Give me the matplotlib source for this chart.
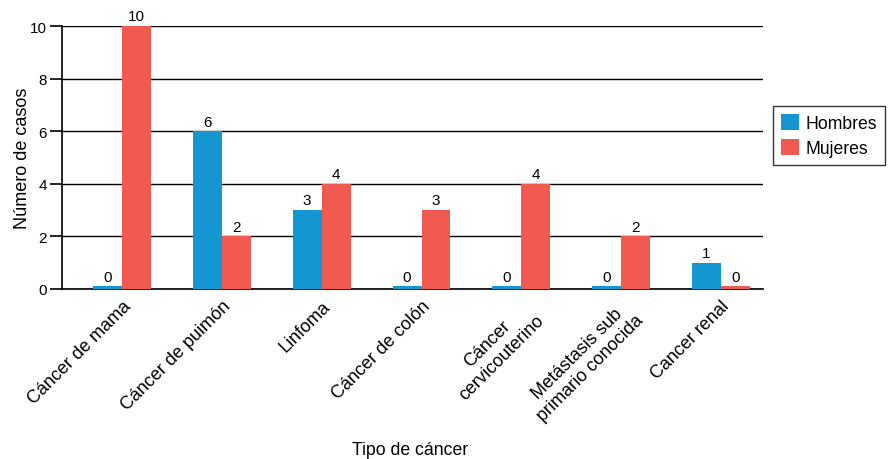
import matplotlib
matplotlib.use('Agg')
from matplotlib import pyplot as plt
import numpy as np

categorias = ['Cáncer de mama', 'Cáncer de puimón', 'Linfoma', 'Cáncer de colón',
              'Cáncer\ncervicouterino', 'Metástasis sub\nprimario conocida', 'Cancer renal']
hombres = [0, 6, 3, 0, 0, 0, 1]
mujeres = [10, 2, 4, 3, 4, 2, 0]

plt.rcParams['font.family'] = ['Liberation Sans', 'DejaVu Sans']

azul = '#1497d1'
rojo = '#f15a50'
ancho = 0.29
stub = 0.1  # zero-valued bars are drawn as a thin sliver

fig = plt.figure(figsize=(8.94, 4.6), dpi=100)
ax = fig.add_axes([0.0694, 0.3696, 0.7841, 0.5717])

x = np.arange(len(categorias))
h = np.array(hombres, dtype=float)
m = np.array(mujeres, dtype=float)
ax.bar(x - ancho / 2, np.where(h == 0, stub, h), ancho, color=azul, label='Hombres', zorder=3)
ax.bar(x + ancho / 2, np.where(m == 0, stub, m), ancho, color=rojo, label='Mujeres', zorder=3)

for xi, v in zip(x - ancho / 2, hombres):
    ax.text(xi, max(v, stub) + 0.1, str(v), ha='center', va='bottom', fontsize=11, clip_on=False)
for xi, v in zip(x + ancho / 2, mujeres):
    ax.text(xi, max(v, stub) + 0.1, str(v), ha='center', va='bottom', fontsize=11, clip_on=False)

ax.set_ylim(0, 10)
ax.set_xlim(-0.6, 6.42)
ax.set_yticks([0, 2, 4, 6, 8, 10])
ax.yaxis.grid(True, color='black', linewidth=1)
ax.set_axisbelow(True)
for s in ['top', 'right']:
    ax.spines[s].set_visible(False)
ax.spines['left'].set_linewidth(1.2)
ax.spines['bottom'].set_linewidth(1.2)
ax.tick_params(axis='y', length=9, width=1.2, labelsize=11, pad=2)
ax.tick_params(axis='x', length=0, pad=6)
ax.set_xticks(x)
ax.set_xticklabels(categorias, rotation=45, ha='right', va='top', rotation_mode='anchor',
                   multialignment='center', fontsize=13)

ax.set_ylabel('Número de casos', fontsize=13, labelpad=-1)
fig.text(0.459, 0.003, 'Tipo de cáncer', ha='center', va='bottom', fontsize=12.7)

leg = ax.legend(loc='upper left', bbox_to_anchor=(0.865, 0.767), bbox_transform=fig.transFigure,
                borderaxespad=0, fancybox=False, frameon=True, edgecolor='black', fontsize=12.7,
                handlelength=1.0, handleheight=1.0, handletextpad=0.4,
                borderpad=0.45, labelspacing=0.4)
leg.get_frame().set_linewidth(1.0)

fig.savefig('out.png', dpi=100)
